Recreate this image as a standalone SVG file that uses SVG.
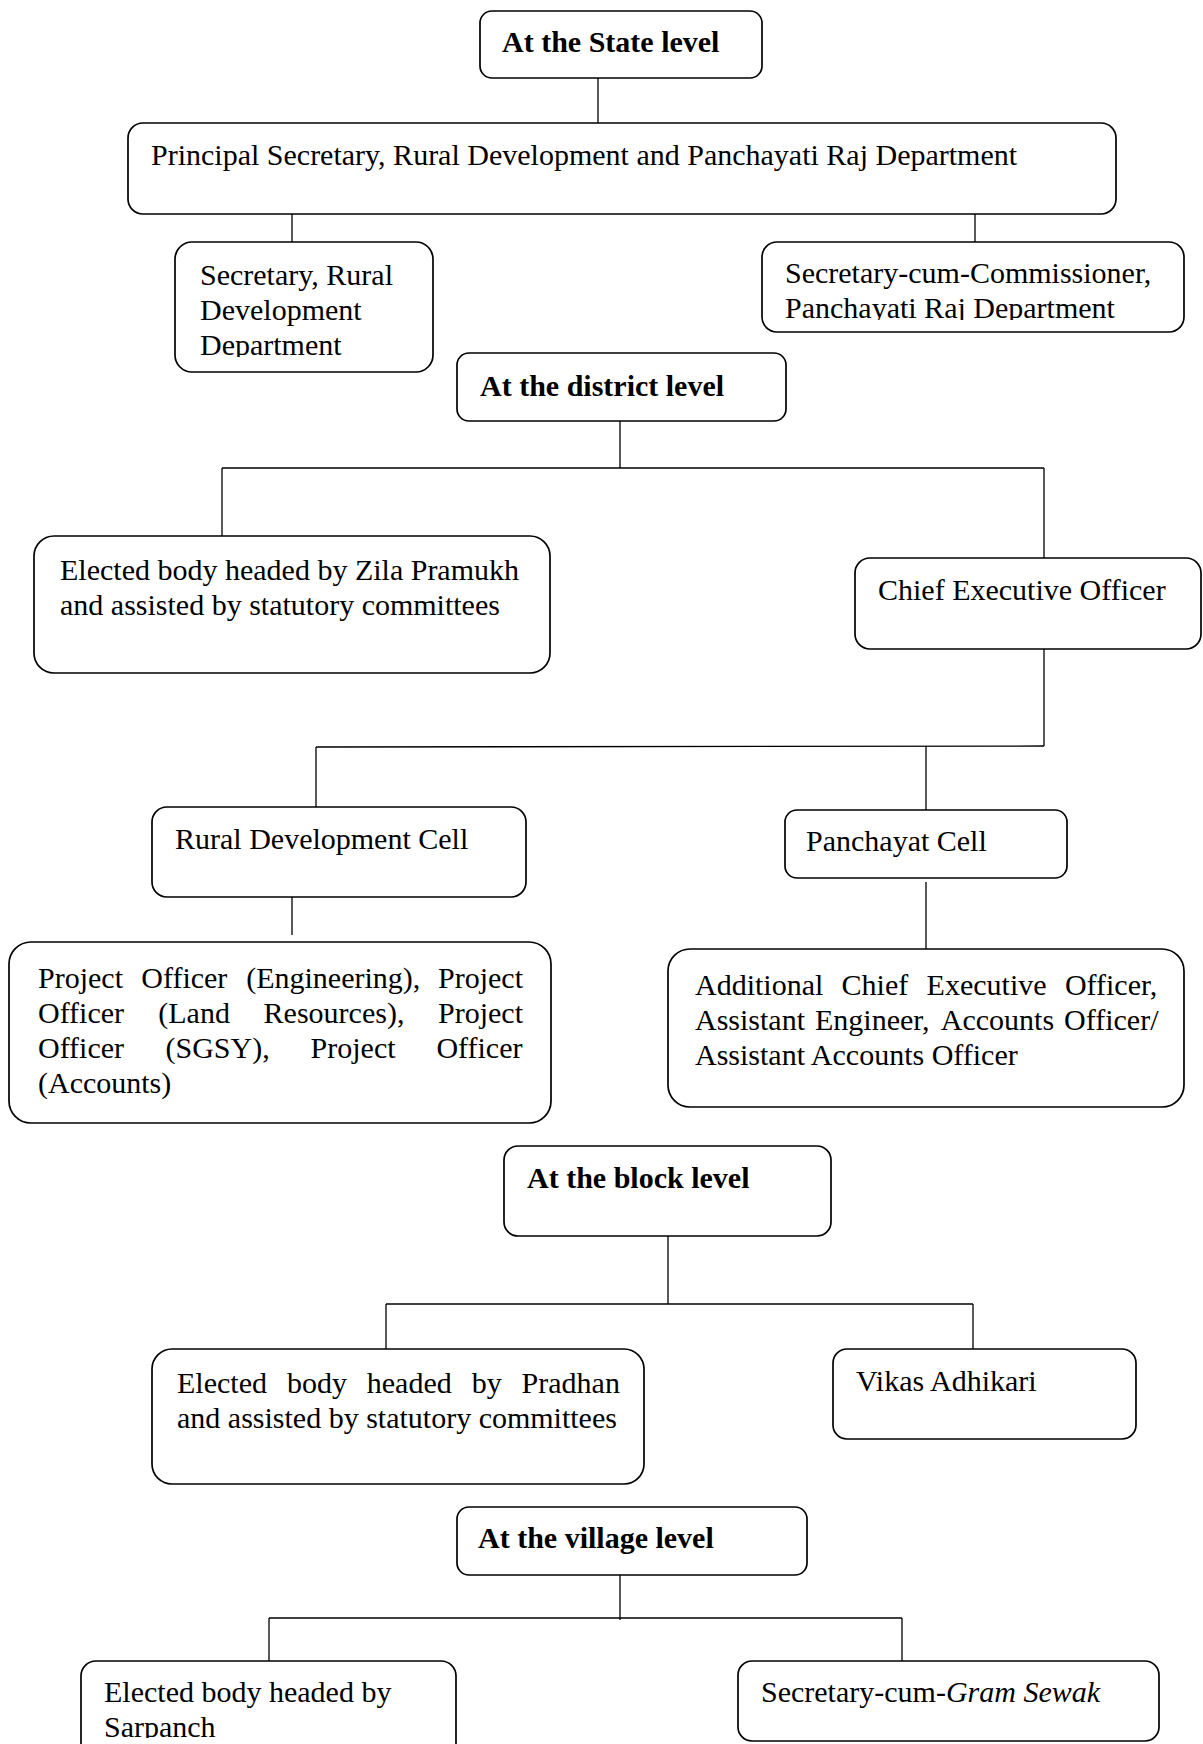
<svg xmlns="http://www.w3.org/2000/svg" width="1203" height="1744" viewBox="0 0 1203 1744">
<style>
  .box { fill: #ffffff; stroke: #000000; stroke-width: 1.7; }
  .t { font-family: "Liberation Serif", "Times New Roman", serif; font-size: 30px; fill: #000000; }
  .b { font-weight: bold; }
  .conn line { stroke: #000000; stroke-width: 1.3; fill: none; }
</style>
<defs>
  <clipPath id="clipSecCum"><rect x="762" y="242" width="422" height="78"/></clipPath>
  <clipPath id="clipSecRD"><rect x="175" y="242" width="258" height="115"/></clipPath>
  <clipPath id="clipSarpanch"><rect x="81" y="1661" width="375" height="77"/></clipPath>
</defs>
<rect width="1203" height="1744" fill="#ffffff"/>

<g id="connectors" class="conn">
  <line x1="598" y1="78" x2="598" y2="123"/>
  <line x1="292" y1="214" x2="292" y2="242"/>
  <line x1="975" y1="214" x2="975" y2="242"/>
  <line x1="620" y1="421" x2="620" y2="468"/>
  <line x1="222" y1="468" x2="1044" y2="468"/>
  <line x1="222" y1="468" x2="222" y2="536"/>
  <line x1="1044" y1="468" x2="1044" y2="558"/>
  <line x1="1044" y1="649" x2="1044" y2="746"/>
  <line x1="316" y1="747" x2="1044" y2="746"/>
  <line x1="316" y1="747" x2="316" y2="812"/>
  <line x1="926" y1="746" x2="926" y2="814"/>
  <line x1="292" y1="897" x2="292" y2="935"/>
  <line x1="926" y1="882" x2="926" y2="949"/>
  <line x1="668" y1="1236" x2="668" y2="1304"/>
  <line x1="386" y1="1304" x2="973" y2="1304"/>
  <line x1="386" y1="1304" x2="386" y2="1349"/>
  <line x1="973" y1="1304" x2="973" y2="1349"/>
  <line x1="620" y1="1575" x2="620" y2="1620"/>
  <line x1="269" y1="1618" x2="902" y2="1618"/>
  <line x1="269" y1="1618" x2="269" y2="1663"/>
  <line x1="902" y1="1618" x2="902" y2="1663"/>
</g>

<g id="state-level">
  <rect class="box" x="480" y="11" width="282" height="67" rx="12"/>
  <text class="t b" x="502" y="52">At the State level</text>
</g>

<g id="principal-secretary">
  <rect class="box" x="128" y="123" width="988" height="91" rx="15"/>
  <text class="t" x="151" y="165">Principal Secretary, Rural Development and Panchayati Raj Department</text>
</g>

<g id="secretary-rd">
  <rect class="box" x="175" y="242" width="258" height="130" rx="17"/>
  <text class="t" clip-path="url(#clipSecRD)"><tspan x="200" y="285">Secretary, Rural</tspan><tspan x="200" y="320">Development</tspan><tspan x="200" y="355">Department</tspan></text>
</g>

<g id="secretary-cum-commissioner">
  <rect class="box" x="762" y="242" width="422" height="90" rx="15"/>
  <text class="t" clip-path="url(#clipSecCum)"><tspan x="785" y="283">Secretary-cum-Commissioner,</tspan><tspan x="785" y="318">Panchayati Raj Department</tspan></text>
</g>

<g id="district-level">
  <rect class="box" x="457" y="353" width="329" height="68" rx="12"/>
  <text class="t b" x="480" y="396">At the district level</text>
</g>

<g id="zila-elected-body">
  <rect class="box" x="34" y="536" width="516" height="137" rx="20"/>
  <text class="t"><tspan x="60" y="580">Elected body headed by Zila Pramukh</tspan><tspan x="60" y="615">and assisted by statutory committees</tspan></text>
</g>

<g id="ceo">
  <rect class="box" x="855" y="558" width="346" height="91" rx="15"/>
  <text class="t" x="878" y="600">Chief Executive Officer</text>
</g>

<g id="rd-cell">
  <rect class="box" x="152" y="807" width="374" height="90" rx="15"/>
  <text class="t" x="175" y="849">Rural Development Cell</text>
</g>

<g id="panchayat-cell">
  <rect class="box" x="785" y="810" width="282" height="68" rx="12"/>
  <text class="t" x="806" y="851">Panchayat Cell</text>
</g>

<g id="project-officers">
  <rect class="box" x="9" y="942" width="542" height="181" rx="22"/>
  <text class="t"><tspan x="38" y="988">Project</tspan><tspan x="141.3" y="988">Officer</tspan><tspan x="246.2" y="988">(Engineering),</tspan><tspan x="438" y="988">Project</tspan><tspan x="38" y="1023">Officer</tspan><tspan x="158.3" y="1023">(Land</tspan><tspan x="263.6" y="1023">Resources),</tspan><tspan x="438" y="1023">Project</tspan><tspan x="38" y="1058">Officer</tspan><tspan x="165.5" y="1058">(SGSY),</tspan><tspan x="310.6" y="1058">Project</tspan><tspan x="436.4" y="1058">Officer</tspan><tspan x="38" y="1093">(Accounts)</tspan></text>
</g>

<g id="additional-ceo">
  <rect class="box" x="668" y="949" width="516" height="158" rx="22"/>
  <text class="t"><tspan x="695" y="995">Additional</tspan><tspan x="841.6" y="995">Chief</tspan><tspan x="926.6" y="995">Executive</tspan><tspan x="1064.9" y="995">Officer,</tspan><tspan x="695" y="1030">Assistant</tspan><tspan x="815" y="1030">Engineer,</tspan><tspan x="940.8" y="1030">Accounts</tspan><tspan x="1064.1" y="1030">Officer/</tspan><tspan x="695" y="1065">Assistant Accounts Officer</tspan></text>
</g>

<g id="block-level">
  <rect class="box" x="504" y="1146" width="327" height="90" rx="14"/>
  <text class="t b" x="527" y="1188">At the block level</text>
</g>

<g id="pradhan-elected-body">
  <rect class="box" x="152" y="1349" width="492" height="135" rx="20"/>
  <text class="t"><tspan x="177" y="1393">Elected</tspan><tspan x="286.9" y="1393">body</tspan><tspan x="366.8" y="1393">headed</tspan><tspan x="471.7" y="1393">by</tspan><tspan x="521.6" y="1393">Pradhan</tspan><tspan x="177" y="1428">and assisted by statutory committees</tspan></text>
</g>

<g id="vikas-adhikari">
  <rect class="box" x="833" y="1349" width="303" height="90" rx="14"/>
  <text class="t" x="856" y="1391">Vikas Adhikari</text>
</g>

<g id="village-level">
  <rect class="box" x="457" y="1507" width="350" height="68" rx="12"/>
  <text class="t b" x="478" y="1548">At the village level</text>
</g>

<g id="sarpanch-elected-body">
  <rect class="box" x="81" y="1661" width="375" height="120" rx="15"/>
  <text class="t" clip-path="url(#clipSarpanch)"><tspan x="104" y="1702">Elected body headed by</tspan><tspan x="104" y="1737">Sarpanch</tspan></text>
</g>

<g id="gram-sewak">
  <rect class="box" x="738" y="1661" width="421" height="80" rx="14"/>
  <text class="t" x="761" y="1702">Secretary-cum-<tspan font-style="italic">Gram Sewak</tspan></text>
</g>
</svg>
